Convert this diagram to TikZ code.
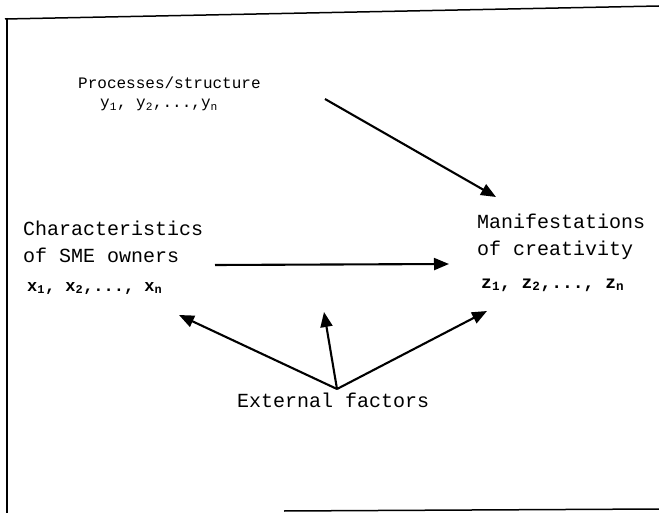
\documentclass[tikz,border=0pt]{standalone}
\usepackage{fontspec}
\setmainfont{Liberation Mono}
\usetikzlibrary{arrows.meta}
\tikzset{
  big/.style={anchor=base west, inner sep=0pt, font=\fontsize{20}{24}\selectfont},
  small/.style={anchor=base west, inner sep=0pt, font=\fontsize{16}{19}\selectfont},
  vars/.style={anchor=base west, inner sep=0pt, font=\fontsize{18}{22}\selectfont\bfseries},
  varsx/.style={anchor=base west, inner sep=0pt, font=\fontsize{17}{21}\selectfont\bfseries},
  arr/.style={line width=2.1pt, -{Triangle[length=15pt,width=12pt]}},
  frame/.style={line width=1.5pt},
}
\begin{document}
\begin{tikzpicture}[x=1pt,y=-1pt]
\useasboundingbox (0,0) rectangle (659,513);
% frame
\coordinate (f1) at (5,19);
\coordinate (f2) at (659,6);
\coordinate (f3) at (7,18);
\coordinate (f4) at (7,513);
\coordinate (f5) at (284,511);
\coordinate (f6) at (659,509);
\draw[frame] (f1) -- (f2);
\draw[frame] (f3) -- (f4);
\draw[frame] (f5) -- (f6);
% texts
\node[small] (proc) at (78,89) {Processes/structure};
\node[small] (yv) at (100,108) {y\textsubscript{1}, y\textsubscript{2},...,y\textsubscript{n}};
\node[big] (ch1) at (23,236) {Characteristics};
\node[big] (ch2) at (23,263) {of SME owners};
\node[varsx] (xv) at (27,291) {x\textsubscript{1}, x\textsubscript{2},..., x\textsubscript{n}};
\node[big] (m1) at (477,229) {Manifestations};
\node[big] (m2) at (477,256) {of creativity};
\node[vars] (zv) at (481,288) {z\textsubscript{1}, z\textsubscript{2},..., z\textsubscript{n}};
\node[big] (ext) at (237,407) {External factors};
% arrow endpoints
\coordinate (ps) at (325,99);
\coordinate (pe) at (496,197);
\coordinate (hs) at (215,265);
\coordinate (he) at (449,264);
\coordinate (eo) at (337,389);
\coordinate (el) at (179,315);
\coordinate (em) at (324,312);
\coordinate (er) at (487,311);
\draw[arr] (ps) -- (pe);
\draw[arr] (hs) -- (he);
\draw[arr] (eo) -- (el);
\draw[arr] (eo) -- (em);
\draw[arr] (eo) -- (er);
\end{tikzpicture}
\end{document}
